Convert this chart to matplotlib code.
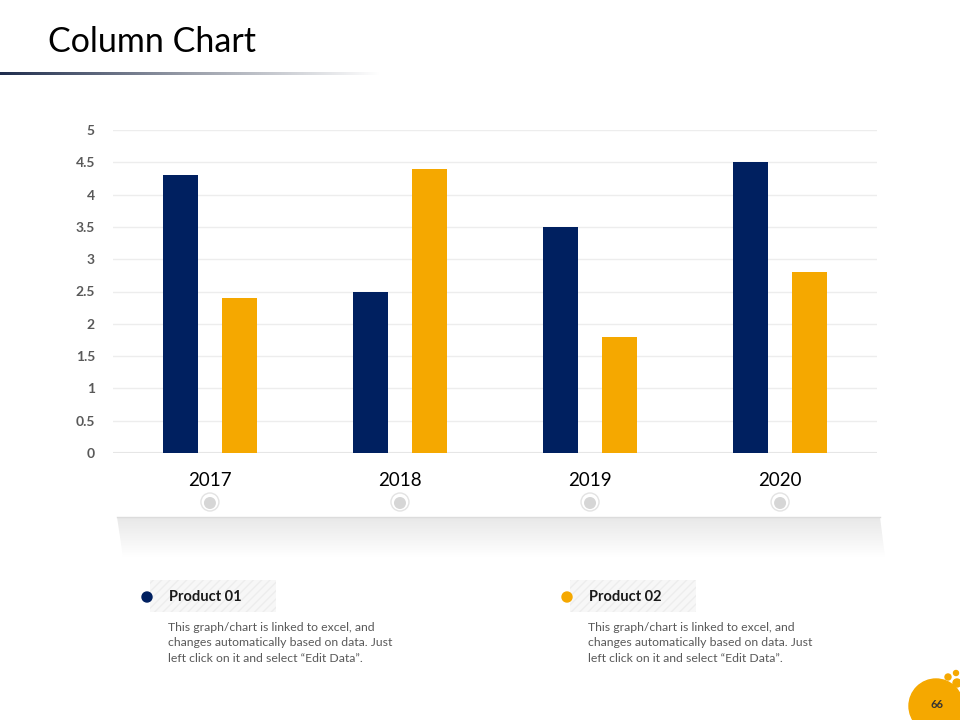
import matplotlib
matplotlib.use("Agg")
import matplotlib.pyplot as plt
import numpy as np
from matplotlib.patches import Circle, Rectangle, Polygon
from matplotlib.colors import LinearSegmentedColormap

plt.rcParams['font.family'] = ['Lato', 'DejaVu Sans']

# --- données ---
years = ['2017', '2018', '2019', '2020']
product_01 = [4.3, 2.5, 3.5, 4.5]
product_02 = [2.4, 4.4, 1.8, 2.8]
yticks = [0, 0.5, 1, 1.5, 2, 2.5, 3, 3.5, 4, 4.5, 5]
series_names = ['Product 01', 'Product 02']
desc = 'This graph/chart is linked to excel, and\nchanges automatically based on data. Just\nleft click on it and select \u201cEdit Data\u201d.'

navy = '#002060'
gold = '#F5A800'
grey_txt = '#595959'

fig = plt.figure(figsize=(9.6, 7.2), dpi=100)

# --- calque décoratif en pixels ---
deco = fig.add_axes([0, 0, 1, 1])
deco.set_xlim(0, 960)
deco.set_ylim(720, 0)
deco.axis('off')

# titre + ligne dégradée
deco.text(48, 42, 'Column Chart', fontsize=24.5, va='center', ha='left', color='black')
grad = np.linspace(0, 1, 256).reshape(1, -1)
cm_line = LinearSegmentedColormap.from_list('l', ['#1F2D4D', '#9A9FAA', '#FFFFFF'])
deco.imshow(grad, cmap=cm_line, extent=[0, 380, 75, 72], aspect='auto', zorder=1)

# bande ombrée sous l'axe (dégradé vertical)
band = Polygon([[117, 517], [880, 517], [885, 557], [123, 557]], closed=True,
               facecolor='none', edgecolor='none', zorder=1)
deco.add_patch(band)
cm_band = LinearSegmentedColormap.from_list('b', ['#E8E8E8', '#FFFFFF'])
vgrad = np.linspace(0, 1, 128).reshape(-1, 1)
img = deco.imshow(vgrad, cmap=cm_band, extent=[117, 885, 557, 517], aspect='auto', zorder=1)
img.set_clip_path(band)
deco.plot([117, 880], [517, 517], color='#DCDCDC', lw=1, zorder=2)
deco.set_xlim(0, 960)
deco.set_ylim(720, 0)

# légendes / descriptions
for i, (name, col) in enumerate(zip(series_names, [navy, gold])):
    x0 = 147 + i * 420
    r = Rectangle((x0 + 3, 580), 126, 32, facecolor='#F7F7F7',
                  edgecolor='#EDEDED', hatch='////', lw=0, zorder=1)
    deco.add_patch(r)
    deco.add_patch(Circle((x0, 597), 5, color=col, zorder=3))
    deco.text(x0 + 22, 597, name, fontsize=10.5, fontweight='bold', va='center', color='#1A1A1A', zorder=3)
    deco.text(x0 + 21, 643, desc, fontsize=8.8, va='center', color=grey_txt, linespacing=1.45)

# numéro de page
deco.add_patch(Circle((936, 706), 27, color=gold, zorder=2))
deco.add_patch(Circle((948, 677), 3, color=gold, zorder=2))
deco.add_patch(Circle((956, 673), 2.5, color=gold, zorder=2))
deco.add_patch(Circle((957, 683), 4, color=gold, zorder=2))
deco.text(937, 705, '66', fontsize=8, fontweight='bold', ha='center', va='center', color='#333333', zorder=3)

# --- graphique ---
ax = fig.add_axes([113 / 960, 267 / 720, 764 / 960, 323 / 720])
x = np.arange(len(years))
w = 0.184
off = 0.154
ax.bar(x - off, product_01, width=w, color=navy, zorder=3)
ax.bar(x + off, product_02, width=w, color=gold, zorder=3)
ax.set_xlim(-0.51, 3.51)
ax.set_ylim(0, 5)
ax.set_yticks(yticks)
ax.set_yticklabels([f'{v:g}' for v in yticks], fontsize=10, fontweight='bold', color=grey_txt)
ax.yaxis.grid(True, color='#EDEDED', lw=1, zorder=0)
ax.tick_params(axis='y', length=0, pad=13)
ax.set_xticks(x)
ax.set_xticklabels(years, fontsize=13.5, color='black')
ax.tick_params(axis='x', length=0, pad=14)
for s in ax.spines.values():
    s.set_visible(False)
ax.axhline(0, color='#E6E6E6', lw=1.5, zorder=2)
ax.patch.set_alpha(0)

# petits cercles sous les années
for xi in x:
    px = 113 + (xi + 0.51) / 4.02 * 764
    deco.add_patch(Circle((px, 502), 9, facecolor='white', edgecolor='#E3E3E3', lw=1, zorder=3))
    deco.add_patch(Circle((px, 503), 6, facecolor='#D6D6D6', edgecolor='none', zorder=4))

fig.savefig('out.png', dpi=100, facecolor='white')
